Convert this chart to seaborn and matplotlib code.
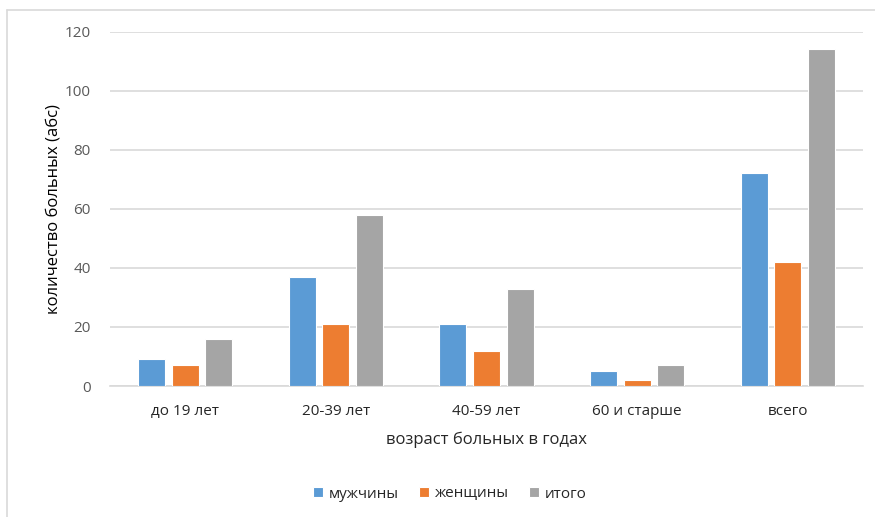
import matplotlib
matplotlib.use("Agg")
import matplotlib.pyplot as plt
from matplotlib.lines import Line2D
import seaborn as sns
import pandas as pd

categories = ["до 19 лет", "20-39 лет", "40-59 лет", "60 и старше", "всего"]
series_names = ["мужчины", "женщины", "итого"]
men = [9, 37, 21, 5, 72]
women = [7, 21, 12, 2, 42]
total = [16, 58, 33, 7, 114]
y_ticks = [0, 20, 40, 60, 80, 100, 120]

colors = ["#5B9BD5", "#ED7D31", "#A5A5A5"]

df = pd.DataFrame({
    "age": categories * 3,
    "group": [series_names[0]] * 5 + [series_names[1]] * 5 + [series_names[2]] * 5,
    "value": men + women + total,
})

sns.set_theme(style="white")
plt.rcParams["font.family"] = ["Open Sans", "DejaVu Sans"]

fig = plt.figure(figsize=(8.75, 5.17), dpi=100)
ax = fig.add_axes([110 / 875, 1 - 386 / 517, (863 - 110) / 875, (386 - 31.5) / 517])

sns.barplot(data=df, x="age", y="value", hue="group", order=categories,
            hue_order=series_names, palette=colors, width=0.67, gap=0.2,
            saturation=1, edgecolor="white", linewidth=0.8, ax=ax, zorder=3)

ax.set_ylim(0, 120)
ax.set_yticks(y_ticks)
ax.set_xlim(-0.5, 4.5)
ax.yaxis.grid(True, color="#D9D9D9", linewidth=1.2, zorder=0)
ax.set_axisbelow(True)
for side in ["top", "right", "left"]:
    ax.spines[side].set_visible(False)
ax.spines["bottom"].set_color("#D9D9D9")
ax.spines["bottom"].set_linewidth(1.2)
ax.tick_params(axis="y", length=0, pad=14, labelsize=11, labelcolor="#595959")
ax.tick_params(axis="x", length=0, pad=13, labelsize=11, labelcolor="#262626")

ax.set_xlabel("возраст больных в годах", fontsize=12, color="#262626", labelpad=9)
ax.set_ylabel("количество больных (абс)", fontsize=12, color="#000000", labelpad=2)

leg = ax.legend(loc="center", bbox_to_anchor=(450 / 875, 1 - 494 / 517),
                bbox_transform=fig.transFigure, ncol=3, frameon=False,
                fontsize=11, handlelength=0.65, handleheight=0.65,
                handletextpad=0.4, columnspacing=1.3)
for t in leg.get_texts():
    t.set_color("#262626")

# chart frame edges
fig.add_artist(Line2D([7 / 875, 7 / 875], [0, 1 - 10 / 517], transform=fig.transFigure,
                      color="#D9D9D9", linewidth=1.2))
fig.add_artist(Line2D([7 / 875, 1], [1 - 10 / 517, 1 - 10 / 517], transform=fig.transFigure,
                      color="#D9D9D9", linewidth=1.2))

fig.savefig("out.png", dpi=100, facecolor="white")
